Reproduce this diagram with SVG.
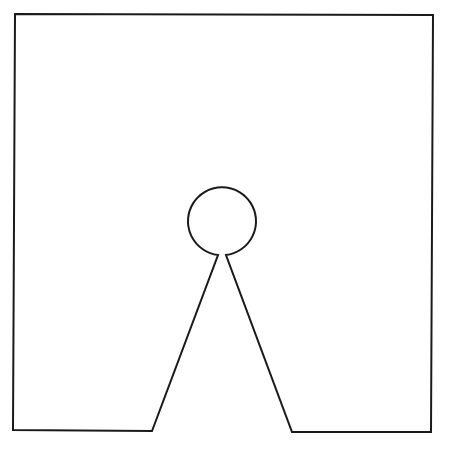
<svg xmlns="http://www.w3.org/2000/svg" width="450" height="450" viewBox="0 0 450 450">
<style>.o{fill:none;stroke:#1a1a1a;stroke-width:2;stroke-linejoin:miter}</style>
<rect width="450" height="450" fill="#ffffff"/>
<g id="outline">
<path class="o" d="M 15 14 L 433 15 L 431 432 L 292 432 L 226 255 A 34 34 0 1 0 218 255 L 152 431 L 13 430 Z"/>
</g>
</svg>
